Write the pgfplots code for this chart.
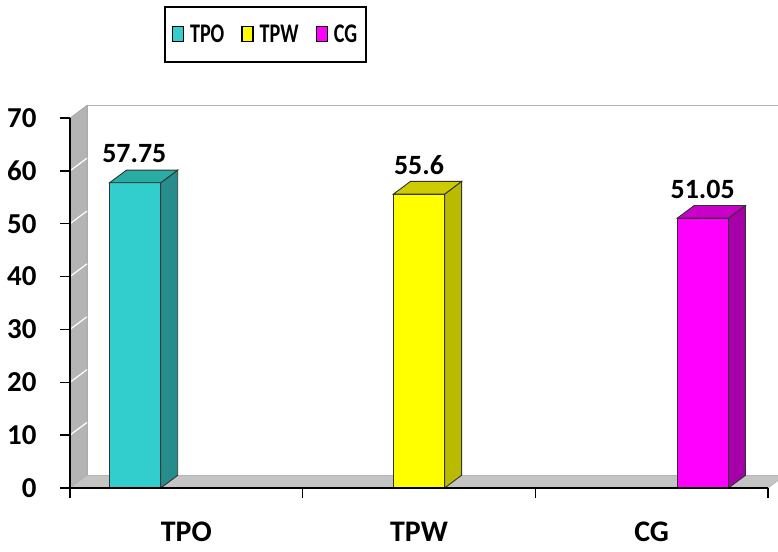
\documentclass[border=0pt]{standalone}
\usepackage{pgfplots}
\pgfplotsset{compat=1.18}
\usepackage{graphicx}
\usepackage{fontspec}
\setmainfont{Carlito}
\definecolor{tpoF}{RGB}{50,206,206}
\definecolor{tpoS}{RGB}{38,140,140}
\definecolor{tpoT}{RGB}{40,172,164}
\definecolor{tpwF}{RGB}{255,255,0}
\definecolor{tpwS}{RGB}{186,186,0}
\definecolor{tpwT}{RGB}{204,204,0}
\definecolor{cgF}{RGB}{255,0,255}
\definecolor{cgS}{RGB}{168,0,168}
\definecolor{cgT}{RGB}{200,0,200}
\definecolor{wallgray}{RGB}{180,180,180}
\definecolor{floorgray}{RGB}{196,196,196}
\newcommand{\legtxt}[1]{\scalebox{0.75}[1]{#1}}
\begin{document}
\begin{tikzpicture}
\begin{axis}[
  width=698bp, height=370bp, scale only axis,
  xmin=-0.5, xmax=2.5, ymin=0, ymax=70,
  clip=false, axis on top=true,
  axis lines=left,
  axis line style={-, black, line width=1.3bp},
  tick style={black, line width=1.3bp},
  tick align=outside,
  major tick length=10bp,
  ytick={0,10,...,70},
  xtick={-0.5,0.5,1.5,2.5},
  x tick label as interval=true,
  xticklabels={TPO,TPW,CG},
  xticklabel style={font=\fontsize{30}{32}\selectfont\bfseries, yshift=-23bp, inner sep=1bp},
  yticklabel style={font=\fontsize{29}{31}\selectfont\bfseries, xshift=-20bp},
  /pgf/number format/assume math mode=true,
  legend columns=3,
  legend style={at={(0.1347,1.3027)}, anchor=north west, draw=black, line width=1.6bp,
    font=\fontsize{27}{29}\selectfont\bfseries, inner xsep=7bp, inner ysep=16bp,
    /tikz/every odd column/.append style={column sep=4bp},
    /tikz/every even column/.append style={column sep=15bp}},
  legend image code/.code={\draw[#1, draw=black, line width=1.2bp] (0bp,-7bp) rectangle (11bp,8bp);},
]
% back wall
\addplot[fill=white, draw=gray!60, line width=0.8bp, forget plot] coordinates {(-0.427,2.4) (-0.427,72.4) (2.573,72.4) (2.573,2.4)} -- cycle;
% left wall
\addplot[fill=wallgray, draw=gray!70, line width=0.6bp, forget plot] coordinates {(-0.5,0) (-0.427,2.4) (-0.427,72.4) (-0.5,70)} -- cycle;
\addplot[white, line width=1.2bp, unbounded coords=jump, forget plot] coordinates {
 (-0.5,10) (-0.427,12.4) (-0.46,nan)
 (-0.5,20) (-0.427,22.4) (-0.46,nan)
 (-0.5,30) (-0.427,32.4) (-0.46,nan)
 (-0.5,40) (-0.427,42.4) (-0.46,nan)
 (-0.5,50) (-0.427,52.4) (-0.46,nan)
 (-0.5,60) (-0.427,62.4)};
% floor
\addplot[fill=floorgray, draw=gray!60, line width=0.6bp, forget plot] coordinates {(-0.5,0) (-0.427,2.4) (2.573,2.4) (2.5,0)} -- cycle;

% bars
\addplot[ybar, bar width=0.22, bar shift=-0.22, fill=tpoF, draw=black!80, line width=0.9bp,
  legend image code/.code={\draw[fill=tpoF, draw=black, line width=1.2bp] (0bp,-7bp) rectangle (11bp,8bp);},
  nodes near coords, every node near coord/.append style={font=\fontsize{28}{30}\selectfont\bfseries, anchor=base, yshift=20bp, xshift=-52bp, black}]
  coordinates {(0,57.75)};
\addlegendentry{\legtxt{TPO}}
\addplot[ybar, bar width=0.22, bar shift=0, fill=tpwF, draw=black!80, line width=0.9bp,
  legend image code/.code={\draw[fill=tpwF, draw=black, line width=1.2bp] (0bp,-7bp) rectangle (11bp,8bp);},
  nodes near coords, every node near coord/.append style={font=\fontsize{28}{30}\selectfont\bfseries, anchor=base, yshift=20bp, black}]
  coordinates {(1,55.6)};
\addlegendentry{\legtxt{TPW}}
\addplot[ybar, bar width=0.22, bar shift=0.22, fill=cgF, draw=black!80, line width=0.9bp,
  legend image code/.code={\draw[fill=cgF, draw=black, line width=1.2bp] (0bp,-7bp) rectangle (11bp,8bp);},
  nodes near coords, every node near coord/.append style={font=\fontsize{28}{30}\selectfont\bfseries, anchor=base, yshift=20bp, xshift=51bp, black}]
  coordinates {(2,51.05)};
\addlegendentry{\legtxt{CG}}

% 3D faces
\addplot[fill=tpoS, draw=black!80, line width=0.9bp, forget plot] coordinates {(-0.11,0) (-0.037,2.4) (-0.037,60.15) (-0.11,57.75)} -- cycle;
\addplot[fill=tpoT, draw=black!80, line width=0.9bp, forget plot] coordinates {(-0.33,57.75) (-0.257,60.15) (-0.037,60.15) (-0.11,57.75)} -- cycle;
\addplot[fill=tpwS, draw=black!80, line width=0.9bp, forget plot] coordinates {(1.11,0) (1.183,2.4) (1.183,58.0) (1.11,55.6)} -- cycle;
\addplot[fill=tpwT, draw=black!80, line width=0.9bp, forget plot] coordinates {(0.89,55.6) (0.963,58.0) (1.183,58.0) (1.11,55.6)} -- cycle;
\addplot[fill=cgS, draw=black!80, line width=0.9bp, forget plot] coordinates {(2.33,0) (2.403,2.4) (2.403,53.45) (2.33,51.05)} -- cycle;
\addplot[fill=cgT, draw=black!80, line width=0.9bp, forget plot] coordinates {(2.11,51.05) (2.183,53.45) (2.403,53.45) (2.33,51.05)} -- cycle;
\end{axis}
\pgfresetboundingbox
\path[use as bounding box] ([xshift=-70bp,yshift=-64bp]current axis.south west) rectangle ([xshift=10bp,yshift=118bp]current axis.north east);
\end{tikzpicture}
\end{document}
